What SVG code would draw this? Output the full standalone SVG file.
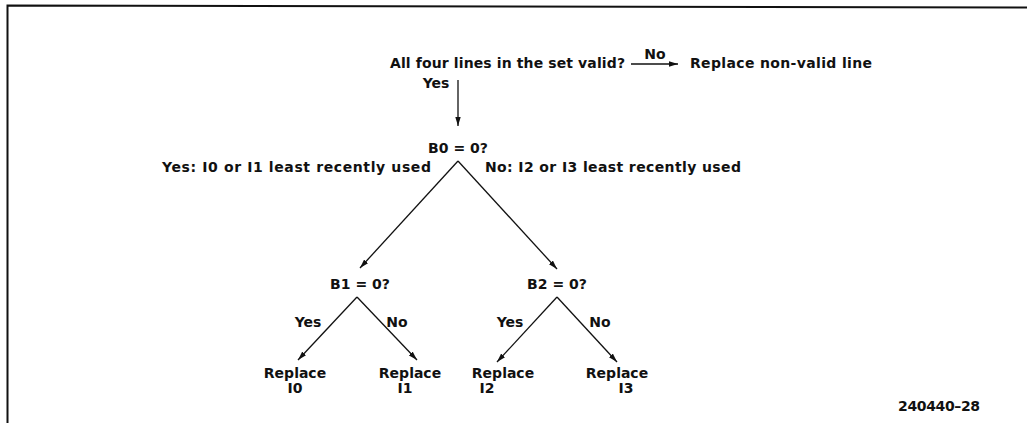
<svg xmlns="http://www.w3.org/2000/svg" width="1027" height="423" viewBox="0 0 1027 423">
<style>
text{font-family:"DejaVu Sans","Liberation Sans",sans-serif;font-size:14px;font-weight:bold;fill:#111}
.c{text-anchor:middle}
.e{stroke:#111;stroke-width:1.3;fill:none}
</style>
<defs>
<marker id="ah" viewBox="0 0 10 6" refX="10" refY="3" markerWidth="9" markerHeight="5.5" markerUnits="userSpaceOnUse" orient="auto">
<path d="M0,0 L10,3 L0,6 Z" fill="#111"/>
</marker>
</defs>
<g id="frame"><path d="M7.5,423 V5.5 L1027,7.5" stroke="#111" stroke-width="2" fill="none"/></g>
<g id="connectors">
<path class="e" d="M631,64 H678" marker-end="url(#ah)"/>
<path class="e" d="M458,80 V126" marker-end="url(#ah)"/>
<path class="e" d="M458,161 L360,268" marker-end="url(#ah)"/>
<path class="e" d="M458,161 L557,269" marker-end="url(#ah)"/>
<path class="e" d="M357,297 L298,360" marker-end="url(#ah)"/>
<path class="e" d="M357,297 L417,360" marker-end="url(#ah)"/>
<path class="e" d="M557,297 L497,362" marker-end="url(#ah)"/>
<path class="e" d="M557,297 L617,362" marker-end="url(#ah)"/>
</g>
<g id="edge-labels">
<text class="c" x="655" y="59">No</text>
<text class="c" x="436" y="88">Yes</text>
<text x="162" y="172" textLength="269" lengthAdjust="spacing">Yes: I0 or I1 least recently used</text>
<text x="485" y="172" textLength="256" lengthAdjust="spacing">No: I2 or I3 least recently used</text>
<text class="c" x="308" y="327">Yes</text>
<text class="c" x="397" y="327">No</text>
<text class="c" x="510" y="327">Yes</text>
<text class="c" x="600" y="327">No</text>
</g>
<g id="n-valid"><text x="390" y="68" textLength="235" lengthAdjust="spacing">All four lines in the set valid?</text></g>
<g id="n-replace-nonvalid"><text x="690" y="68" textLength="182" lengthAdjust="spacing">Replace non-valid line</text></g>
<g id="n-b0"><text class="c" x="458" y="153">B0 = 0?</text></g>
<g id="n-b1"><text class="c" x="360" y="289">B1 = 0?</text></g>
<g id="n-b2"><text class="c" x="557" y="289">B2 = 0?</text></g>
<g id="n-i0"><text class="c" x="295" y="378">Replace</text><text class="c" x="295" y="393">I0</text></g>
<g id="n-i1"><text class="c" x="410" y="378">Replace</text><text class="c" x="405" y="393">I1</text></g>
<g id="n-i2"><text class="c" x="503" y="378">Replace</text><text class="c" x="487" y="393">I2</text></g>
<g id="n-i3"><text class="c" x="617" y="378">Replace</text><text class="c" x="626" y="393">I3</text></g>
<g id="figure-id"><text x="898" y="411" textLength="82" lengthAdjust="spacing">240440–28</text></g>
</svg>
